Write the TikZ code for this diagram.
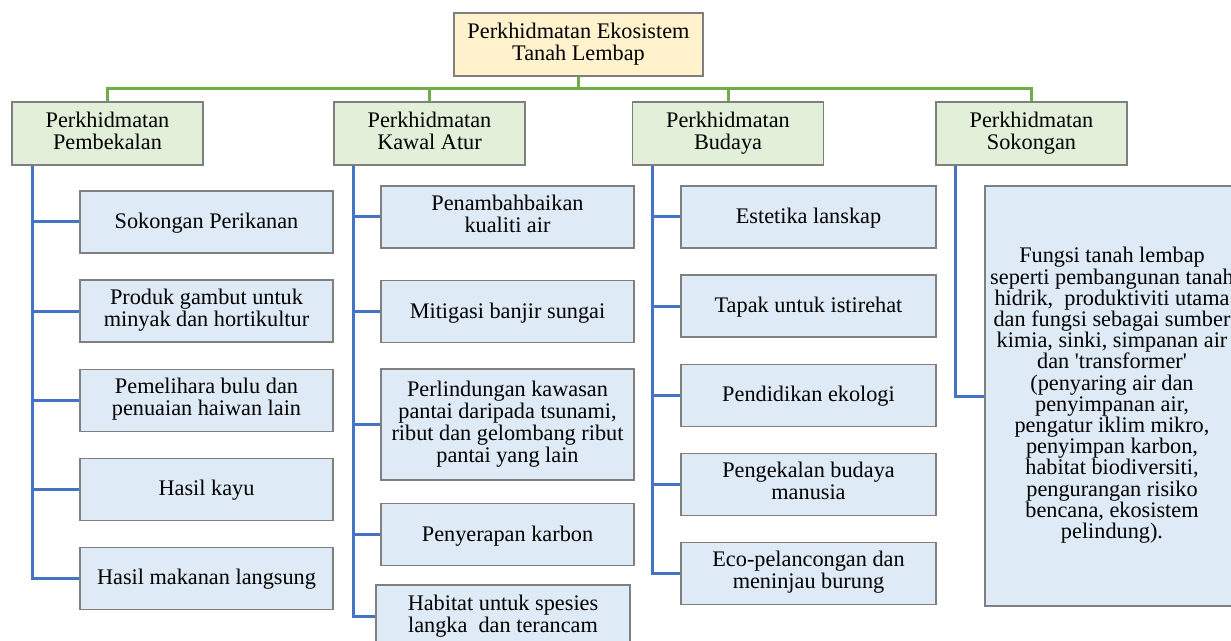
\documentclass[tikz,border=0pt]{standalone}
\usepackage{fontspec}
\setmainfont{Liberation Serif}
\usetikzlibrary{positioning,calc}
\definecolor{rootfill}{HTML}{FFF2CC}
\definecolor{headfill}{HTML}{E2F0D9}
\definecolor{itemfill}{HTML}{DEEAF6}
\definecolor{boxedge}{HTML}{7F7F7F}
\definecolor{trunkcol}{HTML}{70AD47}
\definecolor{branchcol}{HTML}{4472C4}
\tikzstyle{block} = [
  rectangle, draw = boxedge, line width = 0.9pt, align = center,
  inner sep = 0pt, font = \fontsize{16.7}{16.5}\selectfont,
  execute at begin node = {\rule{0pt}{14.5pt}},
  execute at end node = {\rule[-4.5pt]{0pt}{4.5pt}}
]
\tikzstyle{root} = [block, fill = rootfill, minimum width = 186.75pt, minimum height = 47.25pt]
\tikzstyle{head} = [block, fill = headfill, minimum width = 143.25pt, minimum height = 47.25pt]
\tikzstyle{item} = [block, fill = itemfill, minimum width = 189.75pt, minimum height = 46.5pt]
\tikzstyle{trunk} = [draw = trunkcol, line width = 2.25pt]
\tikzstyle{branch} = [draw = branchcol, line width = 2.25pt]

\begin{document}
\begin{tikzpicture}[x = 0.75pt, y = -0.75pt]
    \useasboundingbox (0,0) rectangle (1231,641);
    \clip (0,0) rectangle (1231,641);

    \node[root] (eko) at (578.5,44.5) {Perkhidmatan Ekosistem\\Tanah Lembap};
    \coordinate (bus) at (0,89);

    \node[head] (bekal) at (107.5,133.5) {Perkhidmatan\\Pembekalan};
    \node[head] (kawal) at (429.5,133.5) {Perkhidmatan\\Kawal Atur};
    \node[head] (budaya) at (728,133.5) {Perkhidmatan\\Budaya};
    \node[head] (sokong) at (1031.5,133.5) {Perkhidmatan\\Sokongan};

    % Pembekalan
    \node[item] (b1) at (206.5,222) {Sokongan Perikanan};
    \node[item, below=19.4pt of b1] (b2) {Produk gambut untuk\\minyak dan hortikultur};
    \node[item, below=19.4pt of b2] (b3) {Pemelihara bulu dan\\penuaian haiwan lain};
    \node[item, below=19.4pt of b3] (b4) {Hasil kayu};
    \node[item, below=19.4pt of b4] (b5) {Hasil makanan langsung};

    % Kawal Atur
    \node[item] (k1) at (507.5,217) {Penambahbaikan\\kualiti air};
    \node[item] (k2) at (507.5,311.5) {Mitigasi banjir sungai};
    \node[item, minimum height = 83.25pt] (k3) at (507.5,424.5) {Perlindungan kawasan\\pantai daripada tsunami,\\ribut dan gelombang ribut\\pantai yang lain};
    \node[item] (k4) at (507.5,534.5) {Penyerapan karbon};
    \node[item, minimum width = 190.5pt, minimum height = 47.25pt] (k5) at (503,616.5) {Habitat untuk spesies\\langka~ dan terancam};

    % Budaya
    \node[item, minimum width = 191.25pt] (u1) at (808.5,217) {Estetika lanskap};
    \node[item, minimum width = 191.25pt, below=19.4pt of u1] (u2) {Tapak untuk istirehat};
    \node[item, minimum width = 191.25pt, below=19.4pt of u2] (u3) {Pendidikan ekologi};
    \node[item, minimum width = 191.25pt, below=19.4pt of u3] (u4) {Pengekalan budaya\\manusia};
    \node[item, minimum width = 191.25pt, below=19.4pt of u4] (u5) {Eco-pelancongan dan\\meninjau burung};

    % Sokongan
    \node[item, minimum width = 190.5pt, minimum height = 315pt,
      font = \fontsize{16.7}{15.9}\selectfont] (s1) at (1112,396)
      {Fungsi tanah lembap\\seperti pembangunan tanah\\hidrik,~ produktiviti utama\\dan fungsi sebagai sumber\\kimia, sinki, simpanan air\\dan \textquotesingle transformer\textquotesingle\\(penyaring air dan\\penyimpanan air,\\pengatur iklim mikro,\\penyimpan karbon,\\habitat biodiversiti,\\pengurangan risiko\\bencana, ekosistem\\pelindung).};

    \foreach \h in {bekal,kawal,budaya,sokong}
      \draw[trunk] (eko.south) -- (eko.south |- bus) -| (\h.north);

    \coordinate (sb) at ($(bekal.south west)+(21,0)$);
    \coordinate (sk) at ($(kawal.south west)+(20,0)$);
    \coordinate (su) at ($(budaya.south west)+(21,0)$);
    \coordinate (ss) at ($(sokong.south west)+(20,0)$);
    \foreach \c in {b1,b2,b3,b4,b5}
      \draw[branch] (sb) |- (\c.west);
    \foreach \c in {k1,k2,k3,k4,k5}
      \draw[branch] (sk) |- (\c.west);
    \foreach \c in {u1,u2,u3,u4,u5}
      \draw[branch] (su) |- (\c.west);
    \draw[branch] (ss) |- (s1.west);
\end{tikzpicture}
\end{document}
